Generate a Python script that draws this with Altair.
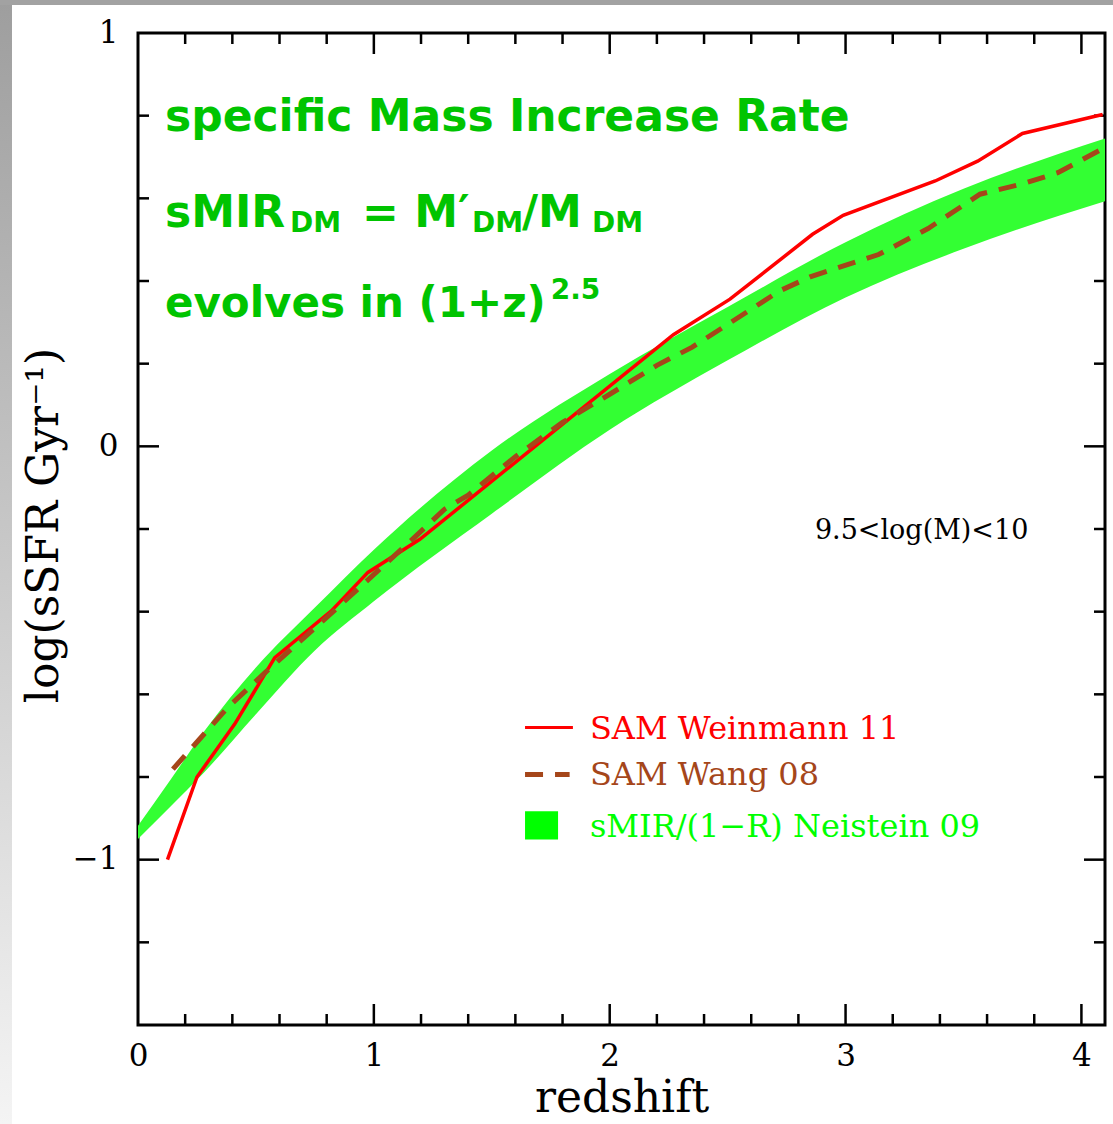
import altair as alt
import pandas as pd

# plot-area size in pixels
W, H = 967, 992

# SAM Weinmann 11
weinmann_z = [0.125, 0.25, 0.41, 0.58, 0.82, 0.975, 1.195, 2.27, 2.51, 2.86, 2.99, 3.38, 3.56, 3.75, 4.09]
weinmann_s = [-1.0, -0.80, -0.672, -0.511, -0.398, -0.305, -0.225, 0.27, 0.356, 0.513, 0.559, 0.642, 0.69, 0.757, 0.803]

# SAM Wang 08
wang_z = [0.148, 0.38, 0.54, 0.80, 1.15, 1.30, 1.40, 1.60, 1.80, 2.00, 2.20, 2.35, 2.50, 2.72, 2.85,
          3.14, 3.35, 3.57, 3.75, 3.90, 4.09]
wang_s = [-0.781, -0.632, -0.547, -0.414, -0.232, -0.152, -0.118, -0.025, 0.058, 0.126, 0.196, 0.24,
          0.295, 0.376, 0.41, 0.464, 0.527, 0.61, 0.635, 0.662, 0.72]

# sMIR/(1-R) Neistein 09 band
band_z = [0.0, 0.14, 0.28, 0.5, 0.75, 1.0, 1.5, 2.0, 2.5, 3.0, 3.5, 4.1]
band_hi = [-0.918, -0.805, -0.69, -0.535, -0.39, -0.25, -0.01, 0.175, 0.337, 0.494, 0.623, 0.745]
band_lo = [-0.95, -0.87, -0.789, -0.648, -0.494, -0.375, -0.163, 0.04, 0.208, 0.36, 0.478, 0.593]

# tick positions
x_major = [1, 2, 3, 4]
x_minor = [0.2, 0.4, 0.6, 0.8, 1.2, 1.4, 1.6, 1.8, 2.2, 2.4, 2.6, 2.8, 3.2, 3.4, 3.6, 3.8]
y_major = [-1, 0]
y_minor = [-1.2, -0.8, -0.6, -0.4, -0.2, 0.2, 0.4, 0.6, 0.8]
x_labels = [0, 1, 2, 3, 4]
y_labels = [-1, 0, 1]

RED = "#ff0000"
BROWN = "#a5461a"
BAND = "#33ff33"
TEXT_GREEN = "#00c400"

xs = alt.Scale(domain=[0, 4.1], nice=False, zero=False)
ys = alt.Scale(domain=[-1.4, 1.0], nice=False, zero=False)

x_axis = alt.Axis(values=x_labels, format="d", ticks=False, domain=False, grid=False,
                  labelFont="DejaVu Serif", labelFontSize=31, labelColor="black",
                  labelPadding=16, labelFlush=False, labelOverlap=False,
                  title="redshift", titleFont="DejaVu Serif", titleFontSize=44,
                  titleFontWeight="normal", titleColor="black",
                  titleX=W / 2, titleY=86, titleAlign="center", titleBaseline="alphabetic")
y_axis = alt.Axis(values=y_labels, format="d", ticks=False, domain=False, grid=False,
                  labelFont="DejaVu Serif", labelFontSize=31, labelColor="black",
                  labelPadding=20, labelFlush=False, labelOverlap=False,
                  title="log(sSFR Gyr⁻¹)", titleFont="DejaVu Serif", titleFontSize=44,
                  titleFontWeight="normal", titleColor="black", titleAngle=270,
                  titleX=-81, titleY=H / 2 - 4, titleAlign="center", titleBaseline="alphabetic")

one = pd.DataFrame({"k": [0]})
band_df = pd.DataFrame({"z": band_z, "lo": band_lo, "hi": band_hi})

# invisible layer that carries the axes (the other layers share its scales)
axes_layer = alt.Chart(band_df).mark_point(opacity=0).encode(
    x=alt.X("z:Q", scale=xs, axis=x_axis),
    y=alt.Y("hi:Q", scale=ys, axis=y_axis),
)

# page frame: grey strip on top, vertical grey gradient on the left
left_strip = alt.Chart(one).mark_rect(
    color=alt.Gradient(
        gradient="linear",
        stops=[alt.GradientStop(color="#9e9e9e", offset=0),
               alt.GradientStop(color="#f4f4f4", offset=1)],
        x1=0, x2=0, y1=0, y2=1,
    )
).encode(x=alt.value(-138), x2=alt.value(-126), y=alt.value(-33), y2=alt.value(H + 99))

top_strip = alt.Chart(one).mark_rect(color="#a2a2a2").encode(
    x=alt.value(-138), x2=alt.value(W + 8), y=alt.value(-33), y2=alt.value(-28)
)


def vticks(vals, y0, y1):
    return alt.Chart(pd.DataFrame({"v": vals})).mark_rule(color="black", strokeWidth=2.5).encode(
        x=alt.X("v:Q", scale=xs), y=alt.value(y0), y2=alt.value(y1)
    )


def hticks(vals, x0, x1):
    return alt.Chart(pd.DataFrame({"v": vals})).mark_rule(color="black", strokeWidth=2.5).encode(
        y=alt.Y("v:Q", scale=ys), x=alt.value(x0), x2=alt.value(x1)
    )


MAJ, MIN = 21, 11
ticks = [
    vticks(x_major, H, H - MAJ), vticks(x_minor, H, H - MIN),
    vticks(x_major, 0, MAJ), vticks(x_minor, 0, MIN),
    hticks(y_major, 0, MAJ), hticks(y_minor, 0, MIN),
    hticks(y_major, W, W - MAJ), hticks(y_minor, W, W - MIN),
]

band = alt.Chart(band_df).mark_area(color=BAND, interpolate="monotone", clip=True).encode(
    x=alt.X("z:Q", scale=xs),
    y=alt.Y("hi:Q", scale=ys),
    y2="lo:Q",
)

weinmann = alt.Chart(pd.DataFrame({"z": weinmann_z, "s": weinmann_s})).mark_line(
    color=RED, strokeWidth=3.5, clip=True
).encode(x=alt.X("z:Q", scale=xs), y=alt.Y("s:Q", scale=ys))

wang = alt.Chart(pd.DataFrame({"z": wang_z, "s": wang_s})).mark_line(
    color=BROWN, strokeWidth=5, strokeDash=[18, 12], clip=True
).encode(x=alt.X("z:Q", scale=xs), y=alt.Y("s:Q", scale=ys))

# green annotation (sub/superscripts as separate pieces)
ann_text = ["specific Mass Increase Rate", "sMIR", "DM", "= M′", "DM", "/M", "DM",
            "evolves in (1+z)", "2.5"]
ann_x = [0.1145, 0.1145, 0.6445, 0.950, 1.416, 1.628, 1.925, 0.1145, 1.75]
ann_y = [0.762, 0.530, 0.518, 0.530, 0.518, 0.530, 0.518, 0.312, 0.356]
ann_size = [44, 44, 28, 44, 28, 44, 28, 42, 28]
ann = alt.Chart(pd.DataFrame({"x": ann_x, "y": ann_y, "t": ann_text, "fs": ann_size})).mark_text(
    font="DejaVu Sans", fontWeight="bold", color=TEXT_GREEN, align="left", baseline="alphabetic"
).encode(
    x=alt.X("x:Q", scale=xs), y=alt.Y("y:Q", scale=ys),
    text="t:N", size=alt.Size("fs:Q", scale=None, legend=None),
)

mass_bin = alt.Chart(pd.DataFrame({"x": [2.87], "y": [-0.225], "t": ["9.5<log(M)<10"]})).mark_text(
    font="DejaVu Serif", fontSize=27, color="black", align="left", baseline="alphabetic"
).encode(x=alt.X("x:Q", scale=xs), y=alt.Y("y:Q", scale=ys), text="t:N")

# legend
leg_names = ["SAM Weinmann 11", "SAM Wang 08", "sMIR/(1−R) Neistein 09"]
leg_colors = [RED, BROWN, "#00ff00"]
leg_x = [1.916, 1.916, 1.916]
leg_y = [-0.709, -0.820, -0.944]
leg_text = alt.Chart(pd.DataFrame({"x": leg_x, "y": leg_y, "t": leg_names, "c": leg_colors})).mark_text(
    font="DejaVu Serif", fontSize=32, align="left", baseline="alphabetic"
).encode(
    x=alt.X("x:Q", scale=xs), y=alt.Y("y:Q", scale=ys),
    text="t:N", color=alt.Color("c:N", scale=None, legend=None),
)

leg_red = alt.Chart(pd.DataFrame({"x": [1.641], "x2": [1.844], "y": [-0.680]})).mark_rule(
    color=RED, strokeWidth=3
).encode(x=alt.X("x:Q", scale=xs), x2="x2:Q", y=alt.Y("y:Q", scale=ys))

leg_brown = alt.Chart(pd.DataFrame({"x": [1.641], "x2": [1.83], "y": [-0.794]})).mark_rule(
    color=BROWN, strokeWidth=5, strokeDash=[18, 12]
).encode(x=alt.X("x:Q", scale=xs), x2="x2:Q", y=alt.Y("y:Q", scale=ys))

leg_band = alt.Chart(pd.DataFrame({"x": [1.641], "x2": [1.781], "y": [-0.883], "y2": [-0.951]})).mark_rect(
    color="#00ff00"
).encode(x=alt.X("x:Q", scale=xs), x2="x2:Q", y=alt.Y("y:Q", scale=ys), y2="y2:Q")

chart = alt.layer(
    axes_layer, left_strip, top_strip, *ticks, band, weinmann, wang, ann, mass_bin,
    leg_red, leg_brown, leg_band, leg_text,
).properties(
    width=W, height=H,
    autosize=alt.AutoSizeParams(type="none"),
    padding={"left": 138, "top": 33, "right": 8, "bottom": 99},
    background="white",
).configure_view(stroke="black", strokeWidth=3)

chart.save("out.html", embed_options={"renderer": "svg", "actions": False})
